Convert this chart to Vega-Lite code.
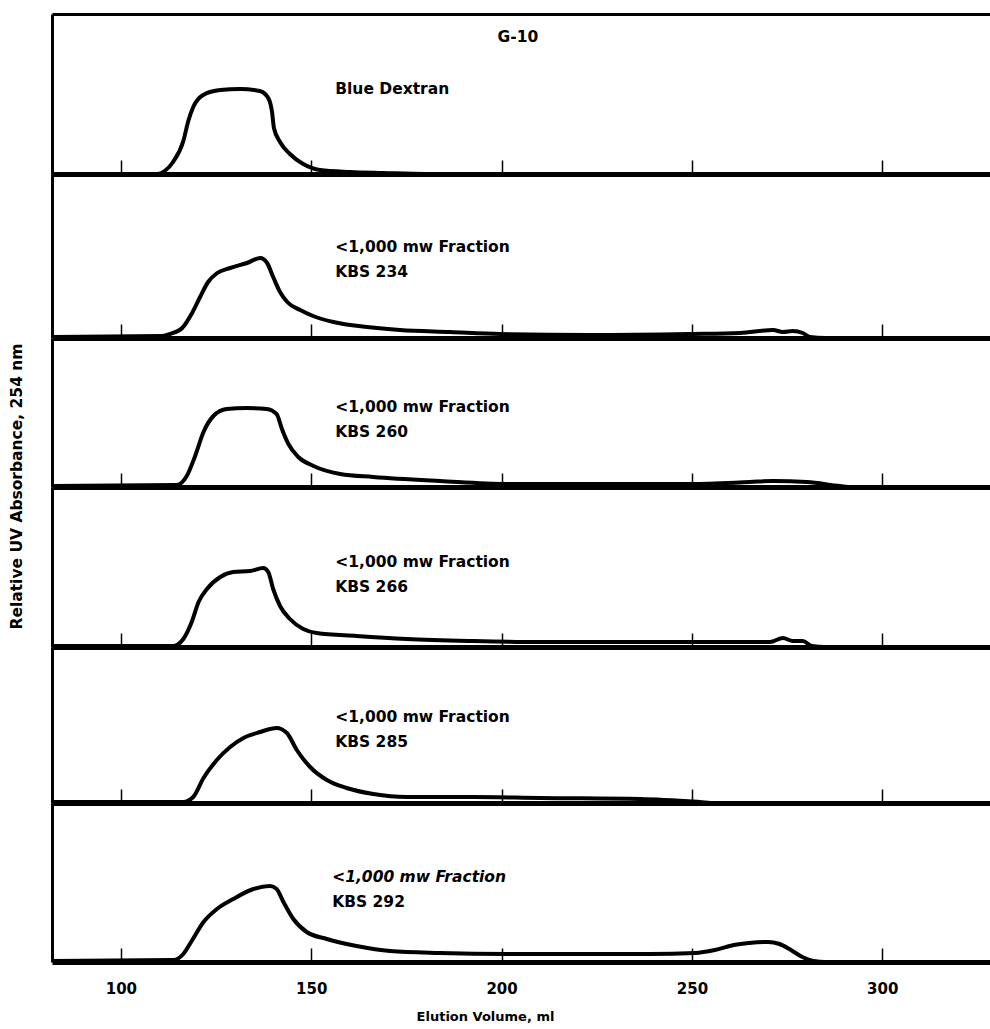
{
  "$schema": "https://vega.github.io/schema/vega-lite/v6.json",
  "background": "white",
  "padding": {"left": 9, "top": 14, "right": 0, "bottom": 0},
  "spacing": 0,
  "bounds": "flush",
  "config": {
    "view": {"stroke": null},
    "axis": {"domainColor": "black", "tickColor": "black", "labelColor": "black", "titleColor": "black", "grid": false, "labelFont": "DejaVu Sans", "titleFont": "DejaVu Sans", "labelFontWeight": "bold", "titleFontWeight": "bold"}
  },
  "datasets": {
    "p1": [{"volume":82,"absorbance":0},{"volume":100,"absorbance":0},{"volume":109.5,"absorbance":0},{"volume":111.5,"absorbance":3},{"volume":113.7,"absorbance":12},{"volume":116.4,"absorbance":33},{"volume":117.7,"absorbance":53},{"volume":119,"absorbance":67},{"volume":121.6,"absorbance":79},{"volume":126.1,"absorbance":84},{"volume":131.3,"absorbance":85},{"volume":136.5,"absorbance":83},{"volume":138.7,"absorbance":76},{"volume":139.7,"absorbance":62},{"volume":140.2,"absorbance":46},{"volume":141.8,"absorbance":32},{"volume":144.4,"absorbance":20},{"volume":147.9,"absorbance":10},{"volume":152.3,"absorbance":4},{"volume":160.2,"absorbance":2},{"volume":168.9,"absorbance":1},{"volume":180,"absorbance":0},{"volume":328,"absorbance":0}],
    "p2": [{"volume":82,"absorbance":1},{"volume":111,"absorbance":2},{"volume":112.9,"absorbance":4},{"volume":116.1,"absorbance":10},{"volume":118.7,"absorbance":25},{"volume":120.8,"absorbance":41},{"volume":122.9,"absorbance":56},{"volume":125.3,"absorbance":65},{"volume":128.7,"absorbance":70},{"volume":133.1,"absorbance":75},{"volume":136.6,"absorbance":80},{"volume":138.4,"absorbance":75},{"volume":140,"absorbance":61},{"volume":141.8,"absorbance":46},{"volume":143.7,"absorbance":36},{"volume":147.1,"absorbance":28},{"volume":150.5,"absorbance":22},{"volume":155.8,"absorbance":16},{"volume":164.7,"absorbance":11},{"volume":173.3,"absorbance":8},{"volume":186.5,"absorbance":6},{"volume":199.6,"absorbance":4},{"volume":223.2,"absorbance":3},{"volume":249.5,"absorbance":4},{"volume":262.6,"absorbance":5},{"volume":271.3,"absorbance":8},{"volume":273.9,"absorbance":6},{"volume":276.5,"absorbance":7},{"volume":279.1,"absorbance":5},{"volume":281,"absorbance":1},{"volume":285,"absorbance":0},{"volume":328,"absorbance":0}],
    "p3": [{"volume":82,"absorbance":1},{"volume":114.7,"absorbance":2},{"volume":117.3,"absorbance":11},{"volume":119.5,"absorbance":31},{"volume":121.7,"absorbance":55},{"volume":124.3,"absorbance":71},{"volume":127.8,"absorbance":78},{"volume":133.1,"absorbance":79},{"volume":138.3,"absorbance":78},{"volume":140.9,"absorbance":73},{"volume":142.3,"absorbance":58},{"volume":144,"absorbance":43},{"volume":146.6,"absorbance":30},{"volume":150.6,"absorbance":21},{"volume":157.6,"absorbance":13},{"volume":166.3,"absorbance":10},{"volume":183.8,"absorbance":6},{"volume":201.3,"absorbance":3},{"volume":249.5,"absorbance":3},{"volume":265.2,"absorbance":5},{"volume":271.3,"absorbance":6},{"volume":280.2,"absorbance":5},{"volume":288.9,"absorbance":1},{"volume":292,"absorbance":0},{"volume":328,"absorbance":0}],
    "p4": [{"volume":82,"absorbance":1},{"volume":113.8,"absorbance":1},{"volume":116.4,"absorbance":8},{"volume":118.6,"absorbance":25},{"volume":120.4,"absorbance":45},{"volume":122.6,"absorbance":58},{"volume":126.1,"absorbance":70},{"volume":129.5,"absorbance":75},{"volume":133.9,"absorbance":76},{"volume":137.4,"absorbance":79},{"volume":138.7,"absorbance":75},{"volume":140,"absorbance":58},{"volume":141.8,"absorbance":41},{"volume":144.4,"absorbance":28},{"volume":147.9,"absorbance":18},{"volume":151.4,"absorbance":14},{"volume":161.9,"absorbance":11},{"volume":175.1,"absorbance":8},{"volume":192.6,"absorbance":6},{"volume":210.1,"absorbance":5},{"volume":249.5,"absorbance":5},{"volume":270.5,"absorbance":5},{"volume":273.9,"absorbance":9},{"volume":276.5,"absorbance":6},{"volume":279.1,"absorbance":6},{"volume":281.5,"absorbance":1},{"volume":285,"absorbance":0},{"volume":328,"absorbance":0}],
    "p5": [{"volume":82,"absorbance":1},{"volume":116.4,"absorbance":1},{"volume":119,"absorbance":6},{"volume":121.7,"absorbance":25},{"volume":125.2,"absorbance":43},{"volume":128.7,"absorbance":56},{"volume":132.2,"absorbance":65},{"volume":136.6,"absorbance":71},{"volume":140.9,"absorbance":75},{"volume":143.6,"absorbance":70},{"volume":146.2,"absorbance":53},{"volume":149.7,"absorbance":36},{"volume":154.1,"absorbance":23},{"volume":159.3,"absorbance":15},{"volume":166.3,"absorbance":9},{"volume":175.1,"absorbance":6},{"volume":192.6,"absorbance":6},{"volume":210.1,"absorbance":5},{"volume":236.3,"absorbance":4},{"volume":252.1,"absorbance":1},{"volume":256,"absorbance":0},{"volume":328,"absorbance":0}],
    "p6": [{"volume":82,"absorbance":1},{"volume":113.8,"absorbance":2},{"volume":116.4,"absorbance":8},{"volume":118.6,"absorbance":21},{"volume":121.7,"absorbance":40},{"volume":125.2,"absorbance":53},{"volume":129.5,"absorbance":63},{"volume":134.8,"absorbance":73},{"volume":139.2,"absorbance":76},{"volume":140.9,"absorbance":73},{"volume":142.7,"absorbance":60},{"volume":145.3,"absorbance":43},{"volume":148.8,"absorbance":30},{"volume":154.1,"absorbance":23},{"volume":161.9,"absorbance":16},{"volume":170.7,"absorbance":11},{"volume":183.8,"absorbance":9},{"volume":201.3,"absorbance":8},{"volume":239,"absorbance":8},{"volume":250.8,"absorbance":9},{"volume":256,"absorbance":12},{"volume":261,"absorbance":17},{"volume":265,"absorbance":19},{"volume":270,"absorbance":20},{"volume":273,"absorbance":18},{"volume":276,"absorbance":12},{"volume":279,"absorbance":5},{"volume":282,"absorbance":1},{"volume":285,"absorbance":0},{"volume":328,"absorbance":0}]
  },
  "vconcat": [
    {
      "width": 938, "height": 160,
      "layer": [
        {"data": {"name": "p1"}, "mark": {"type": "line", "color": "black", "strokeWidth": 4, "interpolate": "monotone", "clip": true},
         "encoding": {
           "x": {"field": "volume", "type": "quantitative", "scale": {"domain": [81.9, 328.3], "nice": false, "zero": false}, "axis": {"values": [100,150,200,250,300], "labels": false, "title": null, "domainWidth": 5, "tickSize": -14, "tickWidth": 1.5}},
           "y": {"field": "absorbance", "type": "quantitative", "scale": {"domain": [0, 160], "nice": false}, "axis": {"labels": false, "ticks": false, "title": null, "domainWidth": 3}}
         }},
        {"data": {"values": [{"label": "Blue Dextran"}]}, "mark": {"type": "text", "align": "left", "baseline": "alphabetic", "font": "DejaVu Sans", "fontWeight": "bold", "fontSize": 15.5, "color": "black"},
         "encoding": {"text": {"field": "label"}, "x": {"datum": 156.3, "axis": null}, "y": {"datum": 80.5}}},
        {"data": {"values": [{"label": "G-10"}]}, "mark": {"type": "text", "align": "center", "baseline": "alphabetic", "font": "DejaVu Sans", "fontWeight": "bold", "fontSize": 15.5, "color": "black"},
         "encoding": {"text": {"field": "label"}, "x": {"datum": 204.3, "axis": {"orient": "top", "ticks": false, "labels": false, "title": null, "domainWidth": 3}}, "y": {"datum": 132.5}}}
      ],
      "resolve": {"axis": {"x": "independent"}}
    },
    {
      "width": 938, "height": 164,
      "layer": [
        {"data": {"name": "p2"}, "mark": {"type": "line", "color": "black", "strokeWidth": 4, "interpolate": "monotone", "clip": true},
         "encoding": {
           "x": {"field": "volume", "type": "quantitative", "scale": {"domain": [81.9, 328.3], "nice": false, "zero": false}, "axis": {"values": [100,150,200,250,300], "labels": false, "title": null, "domainWidth": 5, "tickSize": -14, "tickWidth": 1.5}},
           "y": {"field": "absorbance", "type": "quantitative", "scale": {"domain": [0, 164], "nice": false}, "axis": {"labels": false, "ticks": false, "title": null, "domainWidth": 3}}
         }},
        {"data": {"values": [{"label": "<1,000 mw Fraction\nKBS 234"}]}, "mark": {"type": "text", "align": "left", "baseline": "alphabetic", "lineBreak": "\n", "lineHeight": 25, "font": "DejaVu Sans", "fontWeight": "bold", "fontSize": 15.5, "color": "black"},
         "encoding": {"text": {"field": "label"}, "x": {"datum": 156.3}, "y": {"datum": 86.5}}}
      ]
    },
    {
      "width": 938, "height": 149,
      "layer": [
        {"data": {"name": "p3"}, "mark": {"type": "line", "color": "black", "strokeWidth": 4, "interpolate": "monotone", "clip": true},
         "encoding": {
           "x": {"field": "volume", "type": "quantitative", "scale": {"domain": [81.9, 328.3], "nice": false, "zero": false}, "axis": {"values": [100,150,200,250,300], "labels": false, "title": null, "domainWidth": 5, "tickSize": -14, "tickWidth": 1.5}},
           "y": {"field": "absorbance", "type": "quantitative", "scale": {"domain": [0, 149], "nice": false}, "axis": {"labels": false, "ticks": false, "title": "Relative UV Absorbance, 254 nm", "titleFontSize": 15.5, "titleAngle": -90, "titleX": -36, "titleY": 148, "titleAlign": "center", "titleBaseline": "middle", "domainWidth": 3}}
         }},
        {"data": {"values": [{"label": "<1,000 mw Fraction\nKBS 260"}]}, "mark": {"type": "text", "align": "left", "baseline": "alphabetic", "lineBreak": "\n", "lineHeight": 25, "font": "DejaVu Sans", "fontWeight": "bold", "fontSize": 15.5, "color": "black"},
         "encoding": {"text": {"field": "label"}, "x": {"datum": 156.3}, "y": {"datum": 75.5}}}
      ]
    },
    {
      "width": 938, "height": 160,
      "layer": [
        {"data": {"name": "p4"}, "mark": {"type": "line", "color": "black", "strokeWidth": 4, "interpolate": "monotone", "clip": true},
         "encoding": {
           "x": {"field": "volume", "type": "quantitative", "scale": {"domain": [81.9, 328.3], "nice": false, "zero": false}, "axis": {"values": [100,150,200,250,300], "labels": false, "title": null, "domainWidth": 5, "tickSize": -14, "tickWidth": 1.5}},
           "y": {"field": "absorbance", "type": "quantitative", "scale": {"domain": [0, 160], "nice": false}, "axis": {"labels": false, "ticks": false, "title": null, "domainWidth": 3}}
         }},
        {"data": {"values": [{"label": "<1,000 mw Fraction\nKBS 266"}]}, "mark": {"type": "text", "align": "left", "baseline": "alphabetic", "lineBreak": "\n", "lineHeight": 25, "font": "DejaVu Sans", "fontWeight": "bold", "fontSize": 15.5, "color": "black"},
         "encoding": {"text": {"field": "label"}, "x": {"datum": 156.3}, "y": {"datum": 80.5}}}
      ]
    },
    {
      "width": 938, "height": 156,
      "layer": [
        {"data": {"name": "p5"}, "mark": {"type": "line", "color": "black", "strokeWidth": 4, "interpolate": "monotone", "clip": true},
         "encoding": {
           "x": {"field": "volume", "type": "quantitative", "scale": {"domain": [81.9, 328.3], "nice": false, "zero": false}, "axis": {"values": [100,150,200,250,300], "labels": false, "title": null, "domainWidth": 5, "tickSize": -14, "tickWidth": 1.5}},
           "y": {"field": "absorbance", "type": "quantitative", "scale": {"domain": [0, 156], "nice": false}, "axis": {"labels": false, "ticks": false, "title": null, "domainWidth": 3}}
         }},
        {"data": {"values": [{"label": "<1,000 mw Fraction\nKBS 285"}]}, "mark": {"type": "text", "align": "left", "baseline": "alphabetic", "lineBreak": "\n", "lineHeight": 25, "font": "DejaVu Sans", "fontWeight": "bold", "fontSize": 15.5, "color": "black"},
         "encoding": {"text": {"field": "label"}, "x": {"datum": 156.3}, "y": {"datum": 81.5}}}
      ]
    },
    {
      "width": 938, "height": 159,
      "layer": [
        {"data": {"name": "p6"}, "mark": {"type": "line", "color": "black", "strokeWidth": 4, "interpolate": "monotone", "clip": true},
         "encoding": {
           "x": {"field": "volume", "type": "quantitative", "scale": {"domain": [81.9, 328.3], "nice": false, "zero": false}, "axis": {"values": [100,150,200,250,300], "labels": true, "labelFontSize": 15, "labelPadding": 33, "title": "Elution Volume, ml", "titleFontSize": 13, "titlePadding": 14, "titleX": 433, "domainWidth": 5, "tickSize": -14, "tickWidth": 1.5}},
           "y": {"field": "absorbance", "type": "quantitative", "scale": {"domain": [0, 159], "nice": false}, "axis": {"labels": false, "ticks": false, "title": null, "domainWidth": 3}}
         }},
        {"data": {"values": [{"label": "<1,000 mw Fraction"}]}, "mark": {"type": "text", "align": "left", "baseline": "alphabetic", "font": "DejaVu Sans", "fontWeight": "bold", "fontStyle": "italic", "fontSize": 15.5, "color": "black"},
         "encoding": {"text": {"field": "label"}, "x": {"datum": 155.5}, "y": {"datum": 80.5}}},
        {"data": {"values": [{"label": "KBS 292"}]}, "mark": {"type": "text", "align": "left", "baseline": "alphabetic", "font": "DejaVu Sans", "fontWeight": "bold", "fontSize": 15.5, "color": "black"},
         "encoding": {"text": {"field": "label"}, "x": {"datum": 155.5}, "y": {"datum": 55.5}}}
      ]
    }
  ]
}
